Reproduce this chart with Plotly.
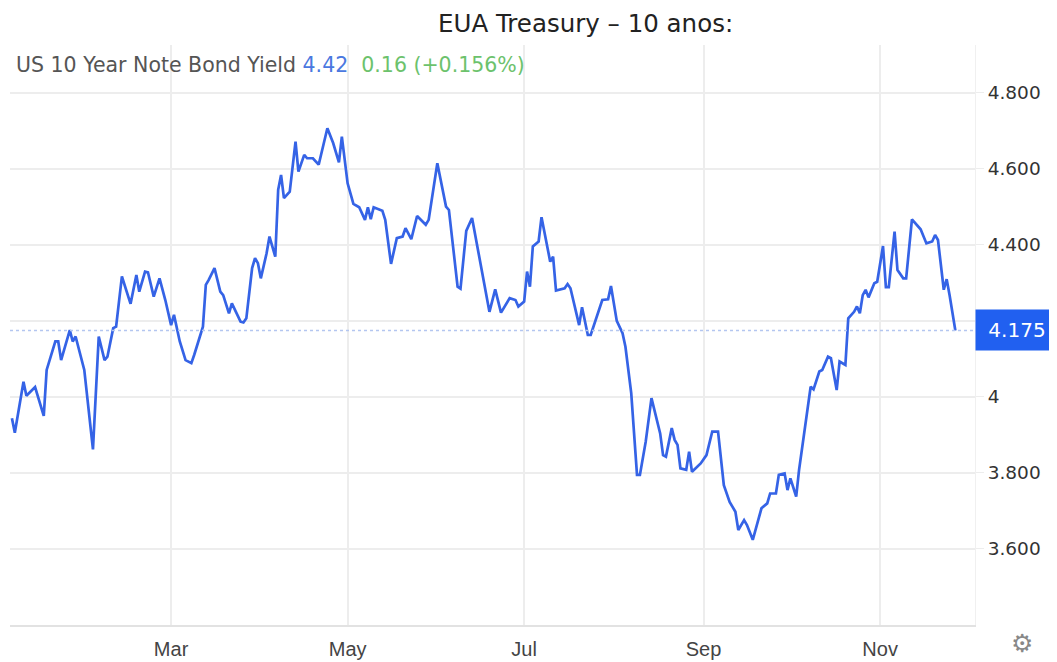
import plotly.graph_objects as go

# US 10 year yield (vertices of the line)
dates = [
    "2024-01-06", "2024-01-07", "2024-01-10", "2024-01-11", "2024-01-14", "2024-01-17",
    "2024-01-18", "2024-01-21", "2024-01-22", "2024-01-23", "2024-01-26", "2024-01-27",
    "2024-01-28", "2024-01-31", "2024-02-03", "2024-02-05", "2024-02-07", "2024-02-08",
    "2024-02-10", "2024-02-11", "2024-02-13", "2024-02-16", "2024-02-18", "2024-02-19",
    "2024-02-21", "2024-02-22", "2024-02-24", "2024-02-26", "2024-02-28", "2024-03-01",
    "2024-03-02", "2024-03-04", "2024-03-06", "2024-03-08", "2024-03-09", "2024-03-12",
    "2024-03-13", "2024-03-14", "2024-03-16", "2024-03-18", "2024-03-19", "2024-03-21",
    "2024-03-22", "2024-03-25", "2024-03-26", "2024-03-27", "2024-03-29", "2024-03-30",
    "2024-03-31", "2024-04-01", "2024-04-03", "2024-04-04", "2024-04-06", "2024-04-07",
    "2024-04-08", "2024-04-09", "2024-04-11", "2024-04-13", "2024-04-14", "2024-04-16",
    "2024-04-17", "2024-04-19", "2024-04-21", "2024-04-24", "2024-04-26", "2024-04-28",
    "2024-04-29", "2024-05-01", "2024-05-03", "2024-05-05", "2024-05-07", "2024-05-08",
    "2024-05-09", "2024-05-10", "2024-05-13", "2024-05-14", "2024-05-16", "2024-05-18",
    "2024-05-20", "2024-05-21", "2024-05-23", "2024-05-25", "2024-05-28", "2024-05-29",
    "2024-06-01", "2024-06-04", "2024-06-05", "2024-06-08", "2024-06-09", "2024-06-11",
    "2024-06-13", "2024-06-19", "2024-06-21", "2024-06-23", "2024-06-26", "2024-06-28",
    "2024-06-29", "2024-07-01", "2024-07-02", "2024-07-03", "2024-07-04", "2024-07-06",
    "2024-07-07", "2024-07-10", "2024-07-11", "2024-07-12", "2024-07-15", "2024-07-16",
    "2024-07-17", "2024-07-20", "2024-07-21", "2024-07-23", "2024-07-24", "2024-07-27",
    "2024-07-28", "2024-07-30", "2024-07-31", "2024-08-02", "2024-08-04", "2024-08-05",
    "2024-08-07", "2024-08-09", "2024-08-10", "2024-08-12", "2024-08-14", "2024-08-17",
    "2024-08-18", "2024-08-19", "2024-08-21", "2024-08-22", "2024-08-23", "2024-08-24",
    "2024-08-26", "2024-08-27", "2024-08-28", "2024-08-31", "2024-09-02", "2024-09-04",
    "2024-09-06", "2024-09-08", "2024-09-10", "2024-09-12", "2024-09-13", "2024-09-15",
    "2024-09-16", "2024-09-18", "2024-09-21", "2024-09-23", "2024-09-24", "2024-09-26",
    "2024-09-27", "2024-09-29", "2024-09-30", "2024-10-01", "2024-10-03", "2024-10-04",
    "2024-10-08", "2024-10-09", "2024-10-11", "2024-10-12", "2024-10-14", "2024-10-15",
    "2024-10-17", "2024-10-18", "2024-10-20", "2024-10-21", "2024-10-23", "2024-10-24",
    "2024-10-25", "2024-10-26", "2024-10-27", "2024-10-28", "2024-10-30", "2024-10-31",
    "2024-11-02", "2024-11-03", "2024-11-04", "2024-11-06", "2024-11-07", "2024-11-09",
    "2024-11-10", "2024-11-12", "2024-11-14", "2024-11-15", "2024-11-17", "2024-11-19",
    "2024-11-20", "2024-11-21", "2024-11-23", "2024-11-24", "2024-11-25", "2024-11-27",
]
yields = [
    3.944, 3.906, 4.040, 4.003, 4.026, 3.950,
    4.071, 4.146, 4.146, 4.097, 4.176, 4.146,
    4.159, 4.071, 3.862, 4.159, 4.097, 4.106,
    4.181, 4.185, 4.317, 4.245, 4.321, 4.277,
    4.330, 4.328, 4.264, 4.312, 4.255, 4.189,
    4.216, 4.146, 4.097, 4.089, 4.111, 4.185,
    4.295, 4.308, 4.339, 4.277, 4.268, 4.220,
    4.246, 4.198, 4.196, 4.207, 4.339, 4.365,
    4.352, 4.312, 4.378, 4.422, 4.369, 4.545,
    4.584, 4.523, 4.540, 4.672, 4.593, 4.637,
    4.628, 4.628, 4.611, 4.707, 4.668, 4.617,
    4.685, 4.562, 4.508, 4.499, 4.466, 4.499,
    4.468, 4.499, 4.490, 4.466, 4.350, 4.418,
    4.422, 4.444, 4.415, 4.476, 4.453, 4.466,
    4.615, 4.501, 4.492, 4.290, 4.285, 4.437,
    4.471, 4.224, 4.283, 4.222, 4.260, 4.255,
    4.238, 4.251, 4.330, 4.290, 4.396, 4.409,
    4.473, 4.356, 4.369, 4.280, 4.286, 4.297,
    4.286, 4.189, 4.236, 4.163, 4.163, 4.233,
    4.255, 4.257, 4.292, 4.200, 4.168, 4.132,
    4.010, 3.795, 3.795, 3.882, 3.997, 3.904,
    3.847, 3.843, 3.918, 3.887, 3.874, 3.812,
    3.808, 3.856, 3.803, 3.825, 3.847, 3.909,
    3.909, 3.768, 3.724, 3.698, 3.650, 3.676,
    3.663, 3.624, 3.707, 3.720, 3.746, 3.746,
    3.795, 3.799, 3.755, 3.786, 3.738, 3.808,
    4.027, 4.020, 4.067, 4.071, 4.106, 4.102,
    4.018, 4.093, 4.084, 4.207, 4.224, 4.238,
    4.220, 4.268, 4.282, 4.262, 4.299, 4.303,
    4.397, 4.289, 4.289, 4.435, 4.334, 4.312,
    4.312, 4.467, 4.448, 4.441, 4.404, 4.409,
    4.426, 4.413, 4.282, 4.310, 4.268, 4.175,
]

last_value = 4.175
y_ticks = [3.6, 3.8, 4.0, 4.2, 4.4, 4.6, 4.8]
y_tick_text = ["3.600", "3.800", "4", "4.200", "4.400", "4.600", "4.800"]

blue = "#3563e6"
grid = "#ededed"
wide = "DejaVu Sans, Verdana, sans-serif"

fig = go.Figure()
fig.add_trace(go.Scatter(x=dates, y=yields, mode="lines",
                         line=dict(color=blue, width=2.7), hoverinfo="x+y"))

# dotted reference line at the last value
fig.add_shape(type="line", xref="paper", yref="y", x0=0, x1=1,
              y0=last_value, y1=last_value,
              line=dict(color="#b4c6f0", width=1.5, dash="dot"))

# page body has an 8px margin, so the figure is sized/offset to fit the window
fig.update_layout(
    width=1049, height=654,
    margin=dict(l=2, r=82, t=37, b=35),
    paper_bgcolor="white", plot_bgcolor="white",
    showlegend=False,
    font=dict(family=wide, color="#333"),
)
fig.update_xaxes(
    type="date", range=["2024-01-05 08:00", "2024-12-03 19:00"],
    tick0="2024-01-01", dtick="M2", tickformat="%b",
    showgrid=True, gridcolor=grid, gridwidth=1.5,
    showline=True, linecolor="#e2e2e2", linewidth=2,
    ticks="", ticklabelstandoff=5,
    tickfont=dict(family="Liberation Sans, Arial, sans-serif", size=20, color="#444"),
    zeroline=False,
)
fig.update_yaxes(
    side="right", range=[3.40, 4.926],
    tickvals=y_ticks, ticktext=y_tick_text,
    showgrid=True, gridcolor=grid, gridwidth=1.5,
    ticks="outside", ticklen=8, tickcolor=grid,
    tickfont=dict(size=18.5, color="#333"),
    showline=True, linecolor="#f0f0f0", linewidth=1,
    zeroline=False,
)

# title
fig.add_annotation(text="EUA Treasury – 10 anos:", xref="paper", yref="paper",
                   x=0.596, y=1.0, yshift=22, xanchor="center", yanchor="middle",
                   showarrow=False,
                   font=dict(family=wide, size=24.5, color="#222"))
# legend line
fig.add_annotation(
    text=("<span style='color:#555'>US 10 Year Note Bond Yield</span> "
          "<span style='color:#4a78e0'>4.42</span>  "
          "<span style='color:#6cc26c'>0.16 (+0.156%)</span>"),
    xref="paper", yref="paper", x=0.0, y=1.0, xshift=4, yshift=-20,
    xanchor="left", yanchor="middle", showarrow=False,
    font=dict(size=20.5))
# last value tag
fig.add_annotation(text="4.175", xref="paper", yref="y", x=1.0, y=last_value,
                   xanchor="left", yanchor="middle", showarrow=False,
                   bgcolor="#2160f0", borderpad=8, width=66,
                   font=dict(size=20, color="white"))
# settings icon
fig.add_annotation(text="⚙", xref="paper", yref="paper", x=1.0, y=0.0,
                   xshift=47, yshift=-18, xanchor="center", yanchor="middle",
                   showarrow=False, font=dict(family="DejaVu Sans", size=25, color="#888"))

fig.write_html("out.html")
